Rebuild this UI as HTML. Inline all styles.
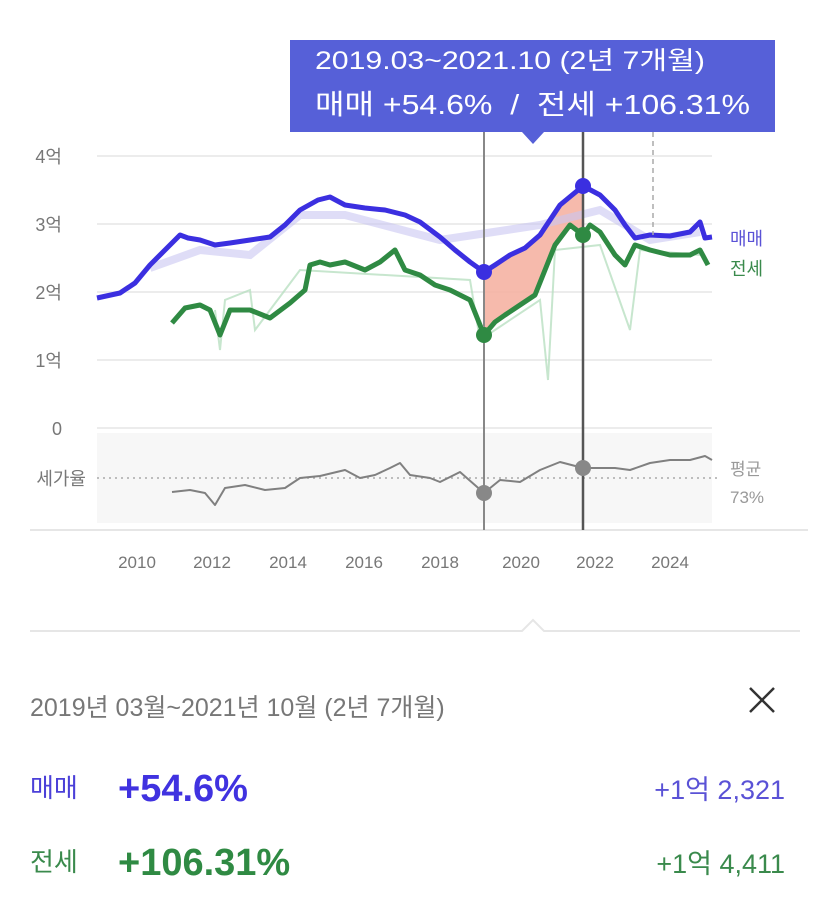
<!DOCTYPE html>
<html><head><meta charset="utf-8"><style>
body{margin:0;width:827px;height:903px;background:#fff;overflow:hidden;font-family:"Liberation Sans","Noto Sans CJK KR",sans-serif;position:relative}
.t{position:absolute;white-space:nowrap}
</style></head><body>
<svg width="827" height="903" style="position:absolute;left:0;top:0" font-family="Liberation Sans, Noto Sans CJK KR, sans-serif">
<g stroke="#ececec" stroke-width="2">
<line x1="97" y1="156" x2="712" y2="156"/><line x1="97" y1="224" x2="712" y2="224"/>
<line x1="97" y1="292" x2="712" y2="292"/><line x1="97" y1="360" x2="712" y2="360"/>
<line x1="97" y1="428" x2="712" y2="428"/></g>
<rect x="97" y="433" width="615" height="90" fill="#f7f7f7"/>
<line x1="30" y1="530" x2="808" y2="530" stroke="#e6e6e6" stroke-width="2"/>
<line x1="97" y1="478" x2="718" y2="478" stroke="#aaa" stroke-width="1.5" stroke-dasharray="2,4"/>
<g fill="#777" font-size="18">
<text x="62" y="163" text-anchor="end">4억</text><text x="62" y="231" text-anchor="end">3억</text>
<text x="62" y="299" text-anchor="end">2억</text><text x="62" y="367" text-anchor="end">1억</text>
<text x="62" y="435" text-anchor="end">0</text><text x="86" y="485" text-anchor="end">세가율</text>
</g>
<g fill="#777" font-size="17" text-anchor="middle">
<text x="137" y="568">2010</text><text x="212" y="568">2012</text><text x="288" y="568">2014</text><text x="364" y="568">2016</text><text x="440" y="568">2018</text><text x="521" y="568">2020</text><text x="595" y="568">2022</text><text x="670" y="568">2024</text>
</g>
<polygon fill="#f5b3a3" opacity="0.9" points="484,272 495,265 510,255 525,248 540,235 560,205 583,186 583,235 570,225 555,245 545,270 535,295 520,305 505,315 495,322 484,335"/>
<polyline fill="none" stroke="#c9c6f2" stroke-width="8" opacity="0.6" points="150,268 200,250 250,255 300,215 345,215 440,240 540,225 600,210 650,240 700,232"/>
<polyline fill="none" stroke="#3b2fe0" stroke-width="5" stroke-linejoin="round" points="97,298 120,293 135,283 150,265 165,250 180,235 188,238 200,240 215,245 230,243 250,240 270,237 285,225 300,210 318,200 330,197 345,205 365,208 385,210 405,215 420,222 440,237 455,250 470,262 484,272 495,265 510,255 525,248 540,235 560,205 583,186 600,195 615,210 625,225 635,238 650,235 670,236 690,232 700,222 705,238 712,237"/>
<polyline fill="none" stroke="#b9e0c2" stroke-width="2" opacity="0.8" points="215,310 220,350 225,300 250,290 255,330 300,270 470,280 480,340 540,300 548,380 555,250 600,245 630,330 640,250 700,255"/>
<polyline fill="none" stroke="#2f8a43" stroke-width="5" stroke-linejoin="round" points="172,323 185,308 200,305 210,310 220,335 230,310 250,310 270,318 290,303 305,290 310,265 320,262 330,265 345,262 365,270 380,262 395,250 405,270 420,275 435,285 450,290 470,300 484,335 495,322 505,315 520,305 535,295 545,270 555,245 570,225 583,235 590,225 600,232 615,255 625,265 635,245 650,250 670,255 690,255 700,250 708,265"/>
<polyline fill="none" stroke="#808080" stroke-width="2" stroke-linejoin="round" points="172,492 190,490 205,493 215,505 225,488 245,485 265,490 285,488 300,478 320,476 345,470 360,478 375,475 390,468 400,463 410,475 430,478 440,482 460,472 484,493 500,480 520,482 540,470 560,462 583,468 600,468 615,468 630,470 650,463 670,460 690,460 705,456 712,460"/>
<line x1="484" y1="132" x2="484" y2="530" stroke="#888" stroke-width="2"/>
<line x1="583" y1="132" x2="583" y2="530" stroke="#555" stroke-width="2.5"/>
<line x1="653" y1="132" x2="653" y2="235" stroke="#aaa" stroke-width="1.5" stroke-dasharray="5,4"/>
<circle cx="484" cy="272" r="8" fill="#3b2fe0"/><circle cx="583" cy="186" r="8" fill="#3b2fe0"/>
<circle cx="484" cy="335" r="8" fill="#2f8a43"/><circle cx="583" cy="235" r="8" fill="#2f8a43"/>
<circle cx="484" cy="493" r="8" fill="#888"/><circle cx="583" cy="468" r="8" fill="#888"/>
<rect x="290" y="40" width="485" height="92" fill="#5660d8"/>
<polygon points="522,132 544,132 533,144" fill="#5660d8"/>
<text x="315" y="69" fill="#fff" font-size="25" textLength="390" lengthAdjust="spacingAndGlyphs">2019.03~2021.10 (2년 7개월)</text>
<text x="315" y="114" fill="#fff" font-size="28" textLength="435" lengthAdjust="spacingAndGlyphs" xml:space="preserve">매매 +54.6%  /  전세 +106.31%</text>
<text x="730" y="245" fill="#5a52d6" font-size="18">매매</text>
<text x="730" y="275" fill="#3a8a4c" font-size="18">전세</text>
<text x="730" y="475" fill="#999" font-size="17">평균</text>
<text x="730" y="503" fill="#999" font-size="17">73%</text>
<polyline fill="none" stroke="#e6e6e6" stroke-width="2" points="30,631 522,631 533,620 544,631 800,631"/>
<line x1="750" y1="688" x2="774" y2="712" stroke="#333" stroke-width="2.5"/>
<line x1="774" y1="688" x2="750" y2="712" stroke="#333" stroke-width="2.5"/>
</svg>
<div class="t" style="left:30px;top:688px;font-size:25px;color:#777">2019년 03월~2021년 10월 (2년 7개월)</div>
<div class="t" style="left:30px;top:768px;font-size:26px;color:#4b40d8">매매</div>
<div class="t" style="left:118px;top:768px;font-size:38px;font-weight:bold;color:#4032e0">+54.6%</div>
<div class="t" style="right:42px;top:768px;font-size:27px;color:#5a52d6">+1억 2,321</div>
<div class="t" style="left:30px;top:842px;font-size:26px;color:#3a8a4c">전세</div>
<div class="t" style="left:118px;top:842px;font-size:38px;font-weight:bold;color:#2f8a43">+106.31%</div>
<div class="t" style="right:42px;top:842px;font-size:27px;color:#3a8a4c">+1억 4,411</div>
</body></html>
